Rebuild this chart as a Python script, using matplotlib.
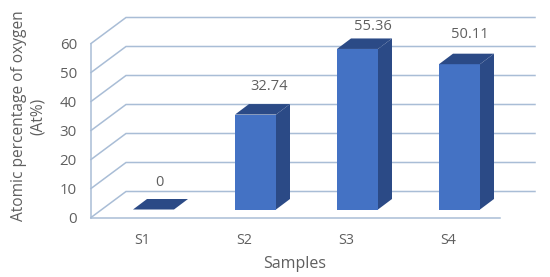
import matplotlib
matplotlib.use("Agg")
import matplotlib.pyplot as plt
from matplotlib.patches import Polygon

samples = ["S1", "S2", "S3", "S4"]
oxygen = [0, 32.74, 55.36, 50.11]
y_ticks = [0, 10, 20, 30, 40, 50, 60]

plt.rcParams["font.family"] = ["Open Sans", "DejaVu Sans"]

GREY = "#5f5f5f"
LINE = "#a9bdd6"
FRONT = "#4472c4"
DARK = "#2b4a86"

# pixel sizes of the fake 3d box, converted to data units below
PX_X = 102.0
PX_Y = 2.9
w = 41 / PX_X
dx = 14 / PX_X
dy = 10.5 / PX_Y
wall_x = (91 - 153.5) / PX_X
wall_back_x = (126 - 153.5) / PX_X
grid_end = (535 - 153.5) / PX_X
floor_end = (500 - 153.5) / PX_X
wall_y = -8 / PX_Y
back_y = 18 / PX_Y

fig = plt.figure(figsize=(5.5, 2.77), dpi=100)
ax = fig.add_axes([0, 0, 1, 1])
ax.set_xlim(-153.5 / PX_X, (550 - 153.5) / PX_X)
ax.set_ylim((209.5 - 277) / PX_Y, 209.5 / PX_Y)
ax.axis("off")

for t in y_ticks:
    ax.plot([wall_x, wall_back_x, grid_end], [t + wall_y, t + back_y, t + back_y],
            color=LINE, lw=1.1, zorder=1, solid_joinstyle="miter")
    ax.text(wall_x - 14 / PX_X, t + wall_y - 2 / PX_Y, str(t), ha="right", va="center",
            fontsize=10.8, color=GREY)
ax.plot([wall_x, wall_x], [wall_y, 60 + wall_y], color=LINE, lw=1.1, zorder=1)
ax.plot([wall_x, floor_end], [wall_y, wall_y], color=LINE, lw=1.1, zorder=1)

xs = list(range(len(samples)))
ax.bar(xs, oxygen, width=w, color=FRONT, zorder=3)
for x, v in zip(xs, oxygen):
    l, r = x - w / 2, x + w / 2
    ax.add_patch(Polygon([(l, v), (r, v), (r + dx, v + dy), (l + dx, v + dy)],
                         color=DARK, lw=0, zorder=3))
    if v > 0:
        ax.add_patch(Polygon([(r, 0), (r + dx, dy), (r + dx, v + dy), (r, v)],
                             color=DARK, lw=0, zorder=3))

# label nudges by hand, the original labels were dragged around
label_dx = [5.5, 14, 15, 10.5]
label_dy = [26.5, 28, 22, 30]
for x, v, a, b in zip(xs, oxygen, label_dx, label_dy):
    ax.text(x + a / PX_X, v + b / PX_Y, str(v), ha="center", va="center",
            fontsize=10.5, color=GREY)

for x, s in zip(xs, samples):
    ax.text(x - 11.5 / PX_X, (209.5 - 240) / PX_Y, s, ha="center", va="center",
            fontsize=10.3, color=GREY)

ax.text((295 - 153.5) / PX_X, (209.5 - 263.5) / PX_Y, "Samples", ha="center",
        va="center", fontsize=11.5, color=GREY)
ax.text((28.5 - 153.5) / PX_X, (209.5 - 116) / PX_Y,
        "Atomic percentage of oxygen\n(At%)", rotation=90, ha="center",
        va="center", ma="center", fontsize=11.2, color=GREY, linespacing=1.2)

fig.savefig("out.png", dpi=100)
